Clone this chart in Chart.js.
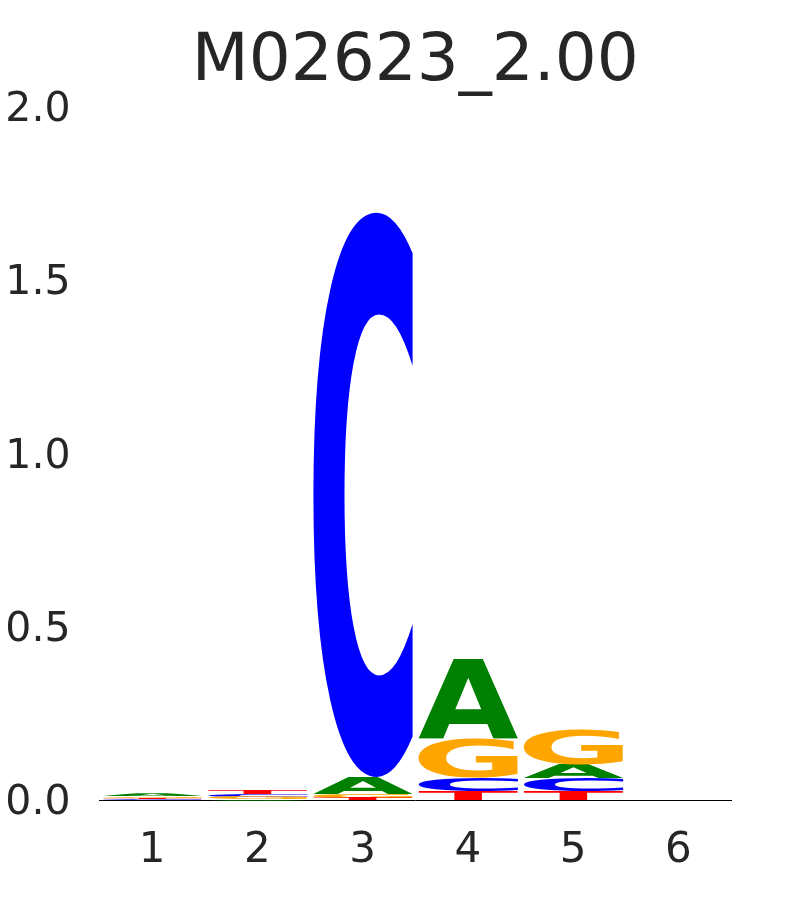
<!DOCTYPE html>
<html>
<head>
<meta charset="utf-8">
<script src="https://cdn.jsdelivr.net/npm/chart.js@4/dist/chart.umd.min.js"></script>
<style>
html,body{margin:0;padding:0;background:#fff;}
#wrap{width:810px;height:900px;}
</style>
</head>
<body>
<div id="wrap"><canvas id="c" width="810" height="900"></canvas></div>
<script>
// ---- data (information content, bits) ----
const positions = ['1', '2', '3', '4', '5', '6'];
const letters = ['A', 'C', 'G', 'T'];
const heightA = [0.006, 0.004, 0.048, 0.230, 0.040, 0];
const heightC = [0.003, 0.008, 1.636, 0.039, 0.037, 0];
const heightG = [0.005, 0.007, 0.011, 0.115, 0.102, 0];
const heightT = [0.004, 0.012, 0.007, 0.027, 0.027, 0];
const yTicks = [0.0, 0.5, 1.0, 1.5, 2.0];
const titleText = 'M02623_2.00';

const letterColors = {A: '#008000', C: '#0000ff', G: '#ffa500', T: '#ff0000'};
const heights = {A: heightA, C: heightC, G: heightG, T: heightT};

// build floating ranges: in each column letters are stacked smallest at bottom
const ranges = {A: [], C: [], G: [], T: []};
positions.forEach((p, i) => {
  const order = letters.slice().sort((a, b) => heights[a][i] - heights[b][i]);
  let base = 0;
  order.forEach(L => {
    const h = heights[L][i];
    ranges[L][i] = h > 0 ? [base, base + h] : null;
    base += h;
  });
});

const glyphPlugin = {
  id: 'glyphs',
  afterDatasetsDraw(chart) {
    const ctx = chart.ctx;
    chart.data.datasets.forEach((ds, di) => {
      const meta = chart.getDatasetMeta(di);
      meta.data.forEach((el, i) => {
        if (!ds.data[i]) return;
        const p = el.getProps(['x', 'y', 'base', 'width'], true);
        const left = p.x - p.width / 2;
        const w = p.width;
        const top = Math.min(p.y, p.base);
        const h = Math.abs(p.base - p.y);
        if (h <= 0) return;
        ctx.save();
        ctx.font = 'bold 200px "DejaVu Sans"';
        ctx.textAlign = 'left';
        ctx.textBaseline = 'alphabetic';
        const m = ctx.measureText(ds.letter);
        const gw = m.actualBoundingBoxLeft + m.actualBoundingBoxRight;
        const gh = m.actualBoundingBoxAscent + m.actualBoundingBoxDescent;
        ctx.beginPath();
        ctx.rect(left - 1, top - 1, w + 2, h + 2);
        ctx.clip();
        ctx.translate(left, top);
        ctx.scale(w / gw, h / gh);
        ctx.fillStyle = ds.glyphColor;
        ctx.fillText(ds.letter, m.actualBoundingBoxLeft, m.actualBoundingBoxAscent);
        ctx.restore();
      });
    });
  }
};

new Chart(document.getElementById('c'), {
  type: 'bar',
  data: {
    labels: positions,
    datasets: letters.map(L => ({
      label: L,
      letter: L,
      glyphColor: letterColors[L],
      data: ranges[L],
      backgroundColor: 'rgba(0,0,0,0)',
      borderWidth: 0,
      grouped: false,
      barPercentage: 0.95,
      categoryPercentage: 1.0
    }))
  },
  options: {
    responsive: false,
    maintainAspectRatio: false,
    animation: false,
    layout: {padding: {left: 0, right: 79, top: 0, bottom: 10}},
    plugins: {
      legend: {display: false},
      tooltip: {enabled: false},
      title: {
        display: true,
        text: titleText,
        fullSize: false,
        color: '#262626',
        font: {family: '"DejaVu Sans"', size: 66, weight: 'normal', lineHeight: 1.0},
        padding: {top: 30, bottom: 11.5}
      }
    },
    scales: {
      x: {
        afterFit(scale) { scale.height = 89.5; },
        grid: {display: false, drawTicks: false, tickLength: 0},
        border: {display: true, color: '#000000', width: 1},
        ticks: {color: '#262626', font: {family: '"DejaVu Sans"', size: 42}, padding: 25}
      },
      y: {
        min: 0,
        max: 2,
        afterBuildTicks(scale) { scale.ticks = yTicks.map(v => ({value: v})); },
        afterFit(scale) { scale.width = 99.5; },
        grid: {display: false, drawTicks: false, tickLength: 0},
        border: {display: false},
        ticks: {
          color: '#262626',
          font: {family: '"DejaVu Sans"', size: 41},
          padding: 29,
          labelOffset: 3,
          callback: v => Number(v).toFixed(1)
        }
      }
    }
  },
  plugins: [glyphPlugin]
});
</script>
</body>
</html>
